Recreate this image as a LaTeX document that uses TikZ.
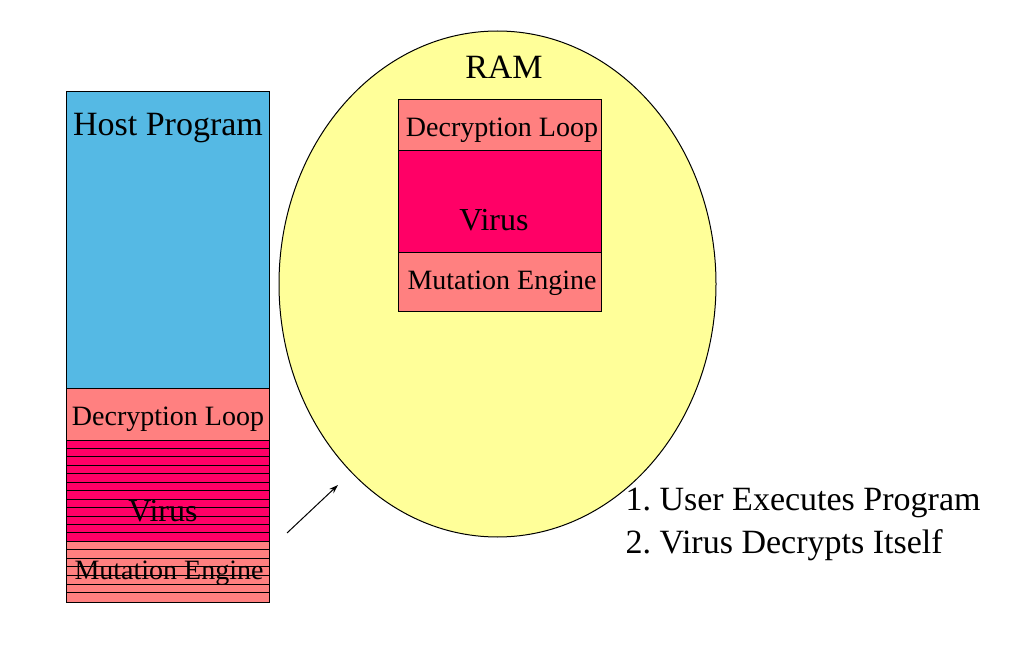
\documentclass[tikz,border=0pt]{standalone}
\usetikzlibrary{shapes.geometric,arrows.meta}
\usepackage{fontspec}
\setmainfont{Liberation Serif}
\frenchspacing
\definecolor{hostblue}{RGB}{85,185,228}
\definecolor{salmon}{RGB}{255,128,128}
\definecolor{virusred}{RGB}{255,0,102}
\definecolor{ramyellow}{RGB}{255,255,153}
\tikzset{
  seg/.style={draw=black, line width=1pt, inner sep=0pt, minimum width=203pt, anchor=north west},
  stripe/.style={line width=1pt},
  big/.style={font=\fontsize{34}{36}\selectfont},
  mid/.style={font=\fontsize{28}{30}\selectfont},
  vir/.style={font=\fontsize{32}{34}\selectfont},
}
\begin{document}
\begin{tikzpicture}[x=1pt,y=-1pt]
\useasboundingbox (0,0) rectangle (1013,663);
% RAM ellipse
\node[draw=black, line width=1pt, fill=ramyellow, ellipse, minimum width=437pt, minimum height=506pt, inner sep=0pt] (ram) at (497.5,284) {};
\node[big] (ramlbl) at (504,67) {RAM};
% left column
\node[seg, fill=hostblue, minimum height=297pt] (host) at (66,91) {};
\node[big, anchor=center] (hostlbl) at (168,128) {Host Program};
\node[seg, fill=salmon, minimum height=52pt] (dec) at (66,388) {};
\node[seg, fill=virusred, minimum height=101pt] (vir) at (66,440) {};
\node[seg, fill=salmon, minimum height=61pt] (mut) at (66,541) {};
\foreach \i in {1,...,11} {
  \draw[stripe] (66,440+\i*8.45) -- (269,440+\i*8.45);
}
\foreach \i in {1,...,6} {
  \draw[stripe] (66,541+\i*8.6) -- (269,541+\i*8.6);
}
\node[mid] (declbl) at (168,419) {Decryption Loop};
\node[vir] (virlbl) at (163,511) {Virus};
\node[mid] (mutlbl) at (169,573) {Mutation Engine};
% RAM column
\node[seg, fill=salmon, minimum height=51pt] (rdec) at (398,99) {};
\node[seg, fill=virusred, minimum height=102pt] (rvir) at (398,150) {};
\node[seg, fill=salmon, minimum height=59pt] (rmut) at (398,252) {};
\node[mid] (rdeclbl) at (502,130) {Decryption Loop};
\node[vir] (rvirlbl) at (494,220) {Virus};
\node[mid] (rmutlbl) at (502,283) {Mutation Engine};
% arrow
\coordinate (a0) at (287,533);
\coordinate (a1) at (338,485);
\draw[-{Stealth[length=9pt,width=6pt]}, line width=1pt] (a0) -- (a1);
% steps
\node[big, anchor=west, align=left] (steps) at (622,524) {1. User Executes Program\\[7pt]2. Virus Decrypts Itself};
\end{tikzpicture}
\end{document}
